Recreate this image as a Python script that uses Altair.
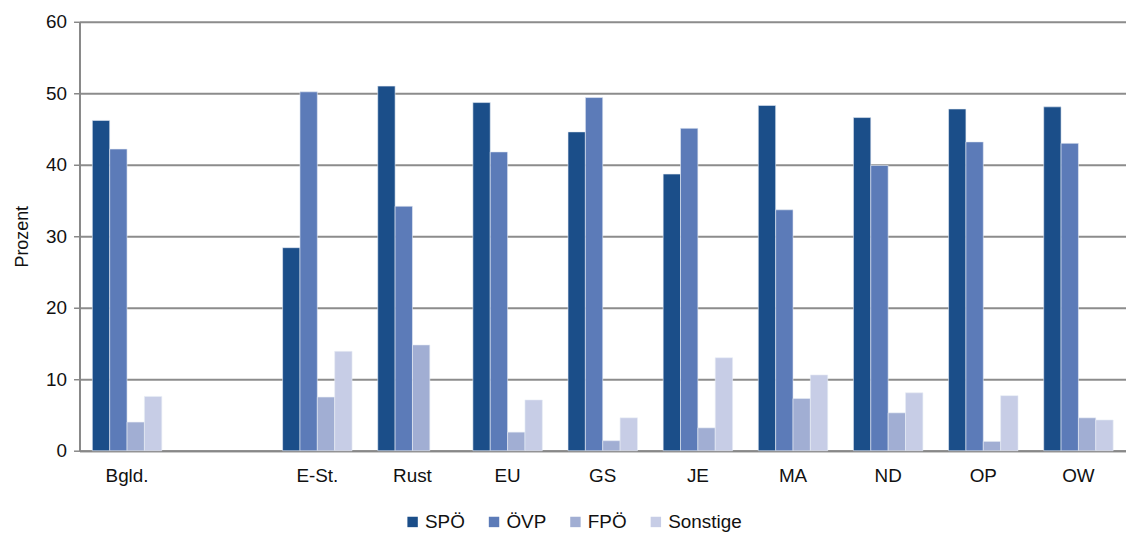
import altair as alt
import pandas as pd

categories = ["Bgld.", " ", "E-St.", "Rust", "EU", "GS", "JE", "MA", "ND", "OP", "OW"]
data_categories = ["Bgld.", "E-St.", "Rust", "EU", "GS", "JE", "MA", "ND", "OP", "OW"]
parties = ["SPÖ", "ÖVP", "FPÖ", "Sonstige"]
spoe = [46.2, 28.4, 51.0, 48.7, 44.6, 38.7, 48.3, 46.6, 47.8, 48.1]
oevp = [42.2, 50.2, 34.2, 41.8, 49.4, 45.1, 33.7, 39.9, 43.2, 43.0]
fpoe = [4.0, 7.5, 14.8, 2.6, 1.4, 3.2, 7.3, 5.3, 1.3, 4.6]
sonstige = [7.6, 13.9, None, 7.1, 4.6, 13.0, 10.6, 8.1, 7.7, 4.3]
colors = ["#1b4e89", "#5c7bb8", "#a1aed3", "#c7cde6"]

rows = []
for i, c in enumerate(data_categories):
    for p, vals in zip(parties, [spoe, oevp, fpoe, sonstige]):
        if vals[i] is not None:
            rows.append({"Gebiet": c, "Partei": p, "Wert": vals[i]})
df = pd.DataFrame(rows)

font = "Liberation Sans"

chart = alt.Chart(df).mark_bar(stroke="#e8ecf5", strokeWidth=0.6).encode(
    x=alt.X("Gebiet:N", sort=categories,
            scale=alt.Scale(domain=categories, paddingInner=0.27, paddingOuter=0.135),
            axis=alt.Axis(title=None, labelAngle=0, ticks=False, labelPadding=16,
                          labelFontSize=19, labelFont=font, labelColor="#111",
                          domainColor="#888888", domainWidth=2)),
    xOffset=alt.XOffset("Partei:N", sort=parties,
                        scale=alt.Scale(domain=parties, paddingInner=0, paddingOuter=0)),
    y=alt.Y("Wert:Q", scale=alt.Scale(domain=[0, 60]),
            axis=alt.Axis(title="Prozent", values=[0, 10, 20, 30, 40, 50, 60],
                          titleFontSize=18, titleFont=font, titleFontWeight="normal",
                          titleColor="#111", titlePadding=14,
                          labelFontSize=19, labelFont=font, labelColor="#111",
                          labelPadding=7, tickSize=6, tickColor="#888888", tickWidth=1.5,
                          domainColor="#888888", domainWidth=2,
                          gridColor="#8c8c8c", gridWidth=2)),
    color=alt.Color("Partei:N", sort=parties,
                    scale=alt.Scale(domain=parties, range=colors),
                    legend=alt.Legend(title=None, orient="none", direction="horizontal",
                                      legendX=326, legendY=494,
                                      symbolType="square", symbolSize=110,
                                      symbolStrokeWidth=0, labelFontSize=19,
                                      labelFont=font, labelColor="#111",
                                      columnPadding=19, labelOffset=3)),
).properties(width=1054, height=432).configure_view(stroke=None).configure(
    padding={"left": 5, "top": 3, "right": 0, "bottom": 0}
)

chart.save("out.html", embed_options={"renderer": "svg", "actions": False})
